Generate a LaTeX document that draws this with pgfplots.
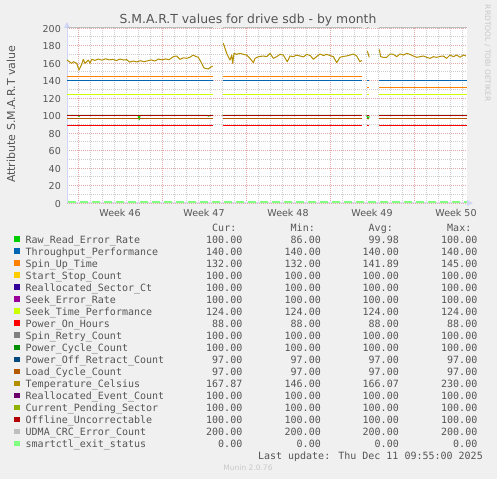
\documentclass[border=0pt]{standalone}
\usepackage{pgfplots}
\pgfplotsset{compat=1.18}
\usepackage{pgfplotstable}
\usepackage{fontspec}
\setmainfont{DejaVu Sans}
\newfontfamily\legfont{DejaVu Sans Mono}
\usetikzlibrary{arrows.meta}
\definecolor{bg}{HTML}{F0F0F0}
\definecolor{txt}{HTML}{555555}
\definecolor{wm}{HTML}{C8C8C8}
\definecolor{axcol}{HTML}{CFD6F8}
\definecolor{majgrid}{HTML}{E2A8A8}
\definecolor{mingrid}{HTML}{CDCDCD}
\definecolor{cA}{HTML}{00CC00}
\definecolor{cB}{HTML}{0066B3}
\definecolor{cC}{HTML}{FF8000}
\definecolor{cD}{HTML}{FFCC00}
\definecolor{cE}{HTML}{330099}
\definecolor{cF}{HTML}{990099}
\definecolor{cG}{HTML}{CCFF00}
\definecolor{cH}{HTML}{FF0000}
\definecolor{cI}{HTML}{808080}
\definecolor{cJ}{HTML}{008F00}
\definecolor{cK}{HTML}{00487D}
\definecolor{cL}{HTML}{B35A00}
\definecolor{cM}{HTML}{B38F00}
\definecolor{cN}{HTML}{6B006B}
\definecolor{cO}{HTML}{8FB300}
\definecolor{cP}{HTML}{B30000}
\definecolor{cQ}{HTML}{BEBEBE}
\definecolor{cR}{HTML}{80FF80}

\pgfplotstableread{
x TP SUT SSC RSC SER STP POH SRC PCC PORC LCC REC CPS OU UDMA
-0.916667 140 145 100 100 100 124 88 100 100 97 97 100 100 100 200
11.22 140 145 100 100 100 124 88 100 100 97 97 100 100 100 200
11.6 nan nan nan nan nan nan nan nan nan nan nan nan nan nan nan
12.06 140 145 100 100 100 124 88 100 100 97 97 100 100 100 200
23.64 140 145 100 100 100 124 88 100 100 97 97 100 100 100 200
23.85 nan nan nan nan nan nan nan nan nan nan nan nan nan nan nan
24.06 140 132 100 100 100 124 88 100 100 97 97 100 100 100 200
24.28 140 132 100 100 100 124 88 100 100 97 97 100 100 100 200
24.6 nan nan nan nan nan nan nan nan nan nan nan nan nan nan nan
25.08 140 132 100 100 100 124 88 100 100 97 97 100 100 100 200
32.416667 140 132 100 100 100 124 88 100 100 97 97 100 100 100 200
}\consttab

\begin{document}
\begin{tikzpicture}[x=1pt,y=1pt]
\path[use as bounding box, fill=bg] (0,0) rectangle (497,479);
\begin{axis}[
  at={(67pt,276pt)}, anchor=south west,
  scale only axis, width=400pt, height=175pt,
  xmin=-0.916667, xmax=32.416667, ymin=0, ymax=200,
  clip=false,
  unbounded coords=jump,
  axis background/.style={fill=white},
  axis lines=left,
  axis line style={draw=axcol, line width=1pt},
  x axis line style={-{Triangle[length=6pt,width=6pt]}, shorten >=-6pt},
  y axis line style={-{Triangle[length=6pt,width=6pt]}, shorten >=-6pt},
  xtick={0,7,14,21,28},
  xticklabels={},
  minor xtick={1,2,3,4,5,6,8,9,10,11,12,13,15,16,17,18,19,20,22,23,24,25,26,27,29,30,31,32},
  ytick={0,20,...,200},
  minor ytick={10,30,...,190},
  grid=both,
  major grid style={draw=majgrid, line width=0.8pt, dash pattern=on 1pt off 1pt},
  minor grid style={draw=mingrid, line width=0.8pt, dash pattern=on 1pt off 1pt},
  major tick length=0pt, minor tick length=0pt,
  extra x ticks={3.5,10.5,17.5,24.5,31.5},
  extra x tick labels={Week 46,Week 47,Week 48,Week 49,Week 50},
  extra x tick style={grid=none},
  /pgf/number format/assume math mode=true,
  xticklabel style={font=\fontsize{9.5}{10}\selectfont, text=txt, anchor=north, inner sep=0pt, yshift=-6pt},
  yticklabel style={font=\fontsize{9.5}{10}\selectfont, text=txt, anchor=east, inner sep=0pt, xshift=-6pt, yshift=-0.8pt},
  every axis plot/.append style={line width=1pt, line join=round},
]
% Raw_Read_Error_Rate
\addplot[cA] coordinates {(-0.916667,100) (0.0,100) (0.08,99) (0.17,100) (4.95,100) (5.04,99) (5.1,95) (5.17,100) (10.8,100) (10.88,99) (10.96,100) (11.22,100) (11.6,nan) (12.06,100) (23.64,100) (23.85,nan) (24.06,100) (24.17,96) (24.28,99) (24.6,nan) (25.08,100) (32.416667,100)};
\addplot[cB] table[x=x,y=TP]{\consttab};
\addplot[cC] table[x=x,y=SUT]{\consttab};
\addplot[cD] table[x=x,y=SSC]{\consttab};
\addplot[cE] table[x=x,y=RSC]{\consttab};
\addplot[cF] table[x=x,y=SER]{\consttab};
\addplot[cG] table[x=x,y=STP]{\consttab};
\addplot[cH] table[x=x,y=POH]{\consttab};
\addplot[cI] table[x=x,y=SRC]{\consttab};
\addplot[cJ] table[x=x,y=PCC]{\consttab};
\addplot[cK] table[x=x,y=PORC]{\consttab};
\addplot[cL] table[x=x,y=LCC]{\consttab};
% Temperature_Celsius
\addplot[cM] coordinates {
(-0.916667,163.4) (-0.53,159.6) (-0.39,161.5) (-0.11,159.6) (0.08,152.0) (0.31,158.5) (0.44,164.2) (0.58,159.6) (0.86,163.4) (1.0,159.6) (1.14,164.2) (1.4,163.0) (1.7,164.5) (2.0,163.2) (2.3,164.8) (2.6,163.5) (2.9,164.2) (3.2,162.8) (3.5,164.5) (3.8,163.4) (4.06,163.8) (4.3,161.0) (4.6,162.2) (4.9,161.2) (5.2,162.6) (5.5,161.5) (5.8,162.5) (6.1,163.5) (6.4,162.3) (6.7,164.5) (7.0,163.6) (7.3,164.6) (7.6,163.8) (7.94,167.2) (8.22,168.0) (8.5,164.2) (8.8,166.0) (9.06,165.3) (9.35,166.8) (9.61,169.1) (9.8,167.5) (10.03,166.5) (10.31,159.6) (10.5,154.3) (10.86,153.1) (11.0,154.7) (11.22,156.6)
(11.6,nan)
(12.11,182.5) (12.39,171) (12.67,163.4) (12.81,169.1) (12.89,159.6) (13.0,171) (13.22,169.9) (13.5,171) (13.78,169.9) (14.06,169.1) (14.33,165.3) (14.61,160.4) (14.75,165.3) (15.03,167.2) (15.44,168) (15.72,167.2) (16.0,171) (16.28,165.3) (16.56,167.2) (16.83,169.9) (17.11,169.1) (17.44,161.5) (17.67,168) (17.94,167.2) (18.2,169) (18.5,168) (18.8,167) (19.06,169.9) (19.35,168.5) (19.61,164.2) (19.9,167.5) (20.17,170.3) (20.45,168.5) (20.72,169.9) (21.0,168.5) (21.28,167.2) (21.56,160.4) (21.83,166.5) (22.1,167.5) (22.39,168) (22.67,169.1) (22.94,170.3) (23.22,168) (23.5,161.5) (23.64,163)
(23.85,nan)
(24.11,173.7) (24.27,166.5)
(24.6,nan)
(25.11,175.6) (25.22,167.2) (25.44,166.5) (25.72,166.5) (26.0,170.3) (26.28,169.9) (26.56,167.2) (26.83,170.3) (27.11,169.1) (27.39,171) (27.67,169.9) (27.94,168) (28.22,166.5) (28.5,167.2) (28.78,168) (29.06,166.5) (29.33,165.3) (29.61,167.2) (29.89,166.5) (30.17,167.5) (30.44,168) (30.72,165.3) (31.0,169.1) (31.28,167.2) (31.56,169.1) (31.83,166.5) (32.11,169.1) (32.33,168)
};
\addplot[cN] table[x=x,y=REC]{\consttab};
\addplot[cO] table[x=x,y=CPS]{\consttab};
\addplot[cP] table[x=x,y=OU]{\consttab};
\addplot[cQ] table[x=x,y=UDMA]{\consttab};
% smartctl_exit_status
\addplot[cR, line width=2pt, dash pattern=on 8.5pt off 3.5pt, dash phase=11.25pt, yshift=1pt] coordinates {(-0.916667,0) (32.416667,0)};
\end{axis}

% title and labels
\node[anchor=base, inner sep=0pt, text=txt, font=\fontsize{12.4}{13}\selectfont] at (248,455.3) {S.M.A.R.T values for drive sdb - by month};
\node[rotate=90, inner sep=0pt, text=txt, font=\fontsize{11}{12}\selectfont] at (11,364.7) {Attribute S.M.A.R.T value};
\node[rotate=-90, inner sep=0pt, text=wm, font=\fontsize{7.5}{8}\selectfont] at (487.5,425.7) {RRDTOOL / TOBI OETIKER};
\node[anchor=base, inner sep=0pt, text=wm, font=\fontsize{7.5}{8}\selectfont] at (248,8.5) {Munin 2.0.76};

% legend
\begin{scope}[every node/.style={inner sep=0pt, text=txt, font=\legfont\fontsize{10}{11}\selectfont}]
\node[anchor=base east] at (236.5,247.7) {Cur:};
\node[anchor=base east] at (315,247.7) {Min:};
\node[anchor=base east] at (393,247.7) {Avg:};
\node[anchor=base east] at (471.5,247.7) {Max:};
\foreach \nm/\cl/\va/\vb/\vc/\vd [count=\i] in {
 Raw\_Read\_Error\_Rate/cA/100.00/86.00/99.98/100.00,
 Throughput\_Performance/cB/140.00/140.00/140.00/140.00,
 Spin\_Up\_Time/cC/132.00/132.00/141.89/145.00,
 Start\_Stop\_Count/cD/100.00/100.00/100.00/100.00,
 Reallocated\_Sector\_Ct/cE/100.00/100.00/100.00/100.00,
 Seek\_Error\_Rate/cF/100.00/100.00/100.00/100.00,
 Seek\_Time\_Performance/cG/124.00/124.00/124.00/124.00,
 Power\_On\_Hours/cH/88.00/88.00/88.00/88.00,
 Spin\_Retry\_Count/cI/100.00/100.00/100.00/100.00,
 Power\_Cycle\_Count/cJ/100.00/100.00/100.00/100.00,
 Power\_Off\_Retract\_Count/cK/97.00/97.00/97.00/97.00,
 Load\_Cycle\_Count/cL/97.00/97.00/97.00/97.00,
 Temperature\_Celsius/cM/167.87/146.00/166.07/230.00,
 Reallocated\_Event\_Count/cN/100.00/100.00/100.00/100.00,
 Current\_Pending\_Sector/cO/100.00/100.00/100.00/100.00,
 Offline\_Uncorrectable/cP/100.00/100.00/100.00/100.00,
 UDMA\_CRC\_Error\_Count/cQ/200.00/200.00/200.00/200.00,
 smartctl\_exit\_status/cR/0.00/0.00/0.00/0.00}{
  \pgfmathsetmacro\yb{235.7-12*(\i-1)}
  \fill[\cl] (14,\yb+1.2) rectangle (19.7,\yb+6.8);
  \node[anchor=base west] at (25.5,\yb) {\nm};
  \node[anchor=base east] at (242.5,\yb) {\va};
  \node[anchor=base east] at (321,\yb) {\vb};
  \node[anchor=base east] at (399,\yb) {\vc};
  \node[anchor=base east] at (477.5,\yb) {\vd};
}
\node[anchor=base east] at (483,19.7) {Last update: Thu Dec 11 09:55:00 2025};
\end{scope}
\end{tikzpicture}
\end{document}
